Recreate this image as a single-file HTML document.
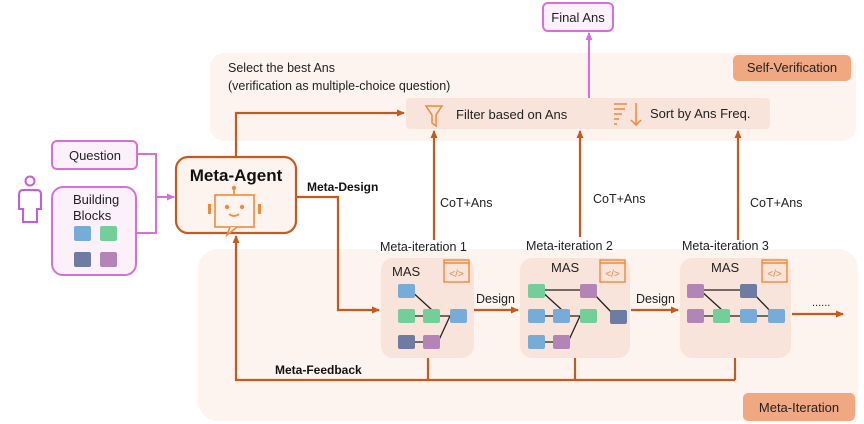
<!DOCTYPE html>
<html><head><meta charset="utf-8"><style>
html,body{margin:0;padding:0;background:#fff;}
svg{display:block;font-family:"Liberation Sans",Arial,sans-serif;}
</style></head><body>
<svg width="864" height="424" viewBox="0 0 864 424" xmlns="http://www.w3.org/2000/svg">
<defs>
<marker id="ao" markerWidth="8" markerHeight="8" refX="7" refY="4" orient="auto" markerUnits="userSpaceOnUse"><path d="M0,0.5 L8,4 L0,7.5 z" fill="#c65a1e"/></marker>
<marker id="ap" markerWidth="8" markerHeight="8" refX="7" refY="4" orient="auto" markerUnits="userSpaceOnUse"><path d="M0,0.5 L8,4 L0,7.5 z" fill="#d86fd8"/></marker>
</defs>
<!-- panels -->
<rect x="210" y="53" width="646" height="88" rx="14" fill="#fdf4ef"/>
<rect x="198" y="249" width="660" height="172" rx="20" fill="#fdf4ef"/>
<rect x="733" y="55" width="118" height="26" rx="5" fill="#f0a882"/>
<text x="792" y="72" font-size="13" text-anchor="middle" fill="#222">Self-Verification</text>
<rect x="743" y="393" width="112" height="28" rx="5" fill="#f0a882"/>
<text x="799" y="412" font-size="13" text-anchor="middle" fill="#222">Meta-Iteration</text>
<text x="228" y="72" font-size="12.5" fill="#222">Select the best Ans</text>
<text x="228" y="90" font-size="12.5" fill="#222">(verification as multiple-choice question)</text>
<rect x="406" y="98" width="364" height="31" rx="4" fill="#f8e4da"/>
<path d="M426,106 h16 l-6,9 v11 l-4,-3 v-8 z" fill="none" stroke="#f08a3a" stroke-width="1.5"/>
<text x="456" y="119" font-size="13" fill="#222">Filter based on Ans</text>
<g stroke="#f08a3a" stroke-width="1.5"><line x1="614" y1="104" x2="627" y2="104"/><line x1="614" y1="109" x2="625" y2="109"/><line x1="614" y1="114" x2="622" y2="114"/><line x1="614" y1="119" x2="619" y2="119"/><line x1="614" y1="124" x2="617" y2="124"/><path d="M636,103 v22 M631,120 l5,5 l5,-5" fill="none"/></g>
<text x="650" y="118" font-size="13" fill="#222">Sort by Ans Freq.</text>
<!-- final ans -->
<rect x="543" y="3" width="70" height="28" rx="5" fill="#fcf1fb" stroke="#d86fd8" stroke-width="2"/>
<text x="578" y="22" font-size="13" text-anchor="middle" fill="#222">Final Ans</text>
<line x1="589" y1="98" x2="589" y2="33" stroke="#d86fd8" stroke-width="2" marker-end="url(#ap)"/>
<!-- left -->
<circle cx="30" cy="181" r="4.5" fill="none" stroke="#c85ae0" stroke-width="2"/>
<path d="M23,190 h14 q4,0 4,5 v14 h-4 v13 h-14 v-13 h-4 v-14 q0,-5 4,-5 z" fill="none" stroke="#c85ae0" stroke-width="2"/>
<rect x="52" y="141" width="85" height="28" rx="5" fill="#fcf1fb" stroke="#d86fd8" stroke-width="2"/>
<text x="95" y="160" font-size="13" text-anchor="middle" fill="#222">Question</text>
<rect x="52" y="187" width="84" height="88" rx="11" fill="#fcf1fb" stroke="#d86fd8" stroke-width="2"/>
<text x="73" y="204" font-size="13" fill="#222">Building</text>
<text x="73" y="220" font-size="13" fill="#222">Blocks</text>
<rect x="74" y="226" width="17" height="15" rx="2" fill="#78acd8"/>
<rect x="100" y="226" width="17" height="15" rx="2" fill="#72cf9a"/>
<rect x="74" y="252" width="17" height="15" rx="2" fill="#6e7ba2"/>
<rect x="100" y="252" width="17" height="15" rx="2" fill="#b385b7"/>
<path d="M137,154 h19 v79 h-19 M156,197 h18" fill="none" stroke="#d86fd8" stroke-width="2"/>
<path d="M165,197 h9" stroke="#d86fd8" stroke-width="2" marker-end="url(#ap)"/>
<!-- meta agent -->
<rect x="176" y="157" width="120" height="76" rx="12" fill="#fdf4ef" stroke="#c65a1e" stroke-width="2.2"/>
<text x="236" y="181" font-size="17" font-weight="bold" text-anchor="middle" fill="#111">Meta-Agent</text>
<g stroke="#f08a3a" stroke-width="1.6" fill="none"><rect x="215" y="195" width="39" height="32"/><line x1="234" y1="190" x2="234" y2="195"/></g>
<circle cx="234" cy="188" r="2.2" fill="#f08a3a"/>
<circle cx="227" cy="207" r="2.2" fill="#f08a3a"/><circle cx="242" cy="207" r="2.2" fill="#f08a3a"/>
<path d="M229,214 q5,4 10,0" stroke="#f08a3a" stroke-width="1.6" fill="none"/>
<rect x="208" y="204" width="3" height="10" fill="#f08a3a"/><rect x="258" y="204" width="3" height="10" fill="#f08a3a"/>
<path d="M230,227 l-3,8 l10,-8" fill="#fdf4ef" stroke="#f08a3a" stroke-width="1.6"/>
<text x="307" y="191" font-size="12" font-weight="bold" fill="#111">Meta-Design</text>
<text x="275" y="374" font-size="12" font-weight="bold" fill="#111">Meta-Feedback</text>
<!-- orange lines -->
<g stroke="#c65a1e" stroke-width="2.2" fill="none">
<path d="M236,157 V113 H404" marker-end="url(#ao)"/>
<path d="M296,197 H338 V310 H379" marker-end="url(#ao)"/>
<path d="M428,358 V380 M575,358 V380 M735,358 V380 M735,380 H236 V236" marker-end="url(#ao)"/>
<path d="M434,240 V131" marker-end="url(#ao)"/>
<path d="M580,237 V131" marker-end="url(#ao)"/>
<path d="M738,240 V131" marker-end="url(#ao)"/>
<path d="M474,310 H518" marker-end="url(#ao)"/>
<path d="M631,310 H678" marker-end="url(#ao)"/>
<path d="M792,314 H843" marker-end="url(#ao)"/>
</g>
<text x="440" y="207" font-size="12.5" fill="#222">CoT+Ans</text>
<text x="593" y="203" font-size="12.5" fill="#222">CoT+Ans</text>
<text x="750" y="207" font-size="12.5" fill="#222">CoT+Ans</text>
<text x="476" y="303" font-size="12.5" fill="#222">Design</text>
<text x="636" y="303" font-size="12.5" fill="#222">Design</text>
<text x="812" y="306" font-size="11" fill="#222">......</text>
<text x="380" y="251" font-size="12.5" fill="#222">Meta-iteration 1</text>
<text x="526" y="250" font-size="12.5" fill="#222">Meta-iteration 2</text>
<text x="682" y="250" font-size="12.5" fill="#222">Meta-iteration 3</text>
<!-- MAS boxes -->
<rect x="381" y="258" width="93" height="100" rx="12" fill="#f8e4da"/>
<rect x="520" y="258" width="110" height="100" rx="12" fill="#f8e4da"/>
<rect x="680" y="258" width="111" height="100" rx="12" fill="#f8e4da"/>
<text x="392" y="276" font-size="13" fill="#222">MAS</text>
<text x="551" y="272" font-size="13" fill="#222">MAS</text>
<text x="711" y="272" font-size="13" fill="#222">MAS</text>
<g stroke="#f08a3a" stroke-width="1.4" fill="none" font-size="10">
<rect x="444" y="260" width="25" height="22"/><line x1="444" y1="263" x2="469" y2="263"/>
<rect x="600" y="260" width="25" height="22"/><line x1="600" y1="263" x2="625" y2="263"/>
<rect x="762" y="260" width="25" height="22"/><line x1="762" y1="263" x2="787" y2="263"/>
</g>
<g fill="#f08a3a" font-size="10" text-anchor="middle"><text x="456.5" y="277">&lt;/&gt;</text><text x="612.5" y="277">&lt;/&gt;</text><text x="774.5" y="277">&lt;/&gt;</text></g>
<!-- MAS1 -->
<g stroke="#222" stroke-width="1.3">
<line x1="410" y1="290" x2="432" y2="310"/><line x1="410" y1="316" x2="450" y2="316"/><line x1="410" y1="342" x2="428" y2="342"/><path d="M438,342 L450,316" fill="none"/>
<line x1="540" y1="290" x2="590" y2="290"/><line x1="540" y1="290" x2="562" y2="310"/><line x1="540" y1="316" x2="590" y2="316"/><line x1="540" y1="342" x2="560" y2="342"/><path d="M568,342 L580,316" fill="none"/><line x1="590" y1="290" x2="615" y2="316"/>
<line x1="700" y1="290" x2="750" y2="290"/><line x1="700" y1="290" x2="722" y2="310"/><line x1="700" y1="316" x2="775" y2="316"/><line x1="750" y1="290" x2="775" y2="316"/>
</g>
<g>
<rect x="398" y="284" width="17" height="14" rx="2" fill="#78acd8"/>
<rect x="398" y="309" width="17" height="14" rx="2" fill="#72cf9a"/>
<rect x="423" y="309" width="17" height="14" rx="2" fill="#72cf9a"/>
<rect x="450" y="309" width="17" height="14" rx="2" fill="#78acd8"/>
<rect x="398" y="335" width="17" height="14" rx="2" fill="#6e7ba2"/>
<rect x="423" y="335" width="17" height="14" rx="2" fill="#b385b7"/>
<rect x="528" y="284" width="17" height="14" rx="2" fill="#72cf9a"/>
<rect x="580" y="284" width="17" height="14" rx="2" fill="#b385b7"/>
<rect x="528" y="309" width="17" height="14" rx="2" fill="#78acd8"/>
<rect x="553" y="309" width="17" height="14" rx="2" fill="#78acd8"/>
<rect x="580" y="309" width="17" height="14" rx="2" fill="#72cf9a"/>
<rect x="610" y="310" width="17" height="14" rx="2" fill="#6e7ba2"/>
<rect x="528" y="335" width="17" height="14" rx="2" fill="#78acd8"/>
<rect x="553" y="335" width="17" height="14" rx="2" fill="#b385b7"/>
<rect x="687" y="284" width="17" height="14" rx="2" fill="#b385b7"/>
<rect x="740" y="284" width="17" height="14" rx="2" fill="#6e7ba2"/>
<rect x="687" y="309" width="17" height="14" rx="2" fill="#b385b7"/>
<rect x="713" y="309" width="17" height="14" rx="2" fill="#72cf9a"/>
<rect x="740" y="309" width="17" height="14" rx="2" fill="#78acd8"/>
<rect x="768" y="309" width="17" height="14" rx="2" fill="#78acd8"/>
</g>
</svg>
</body></html>
